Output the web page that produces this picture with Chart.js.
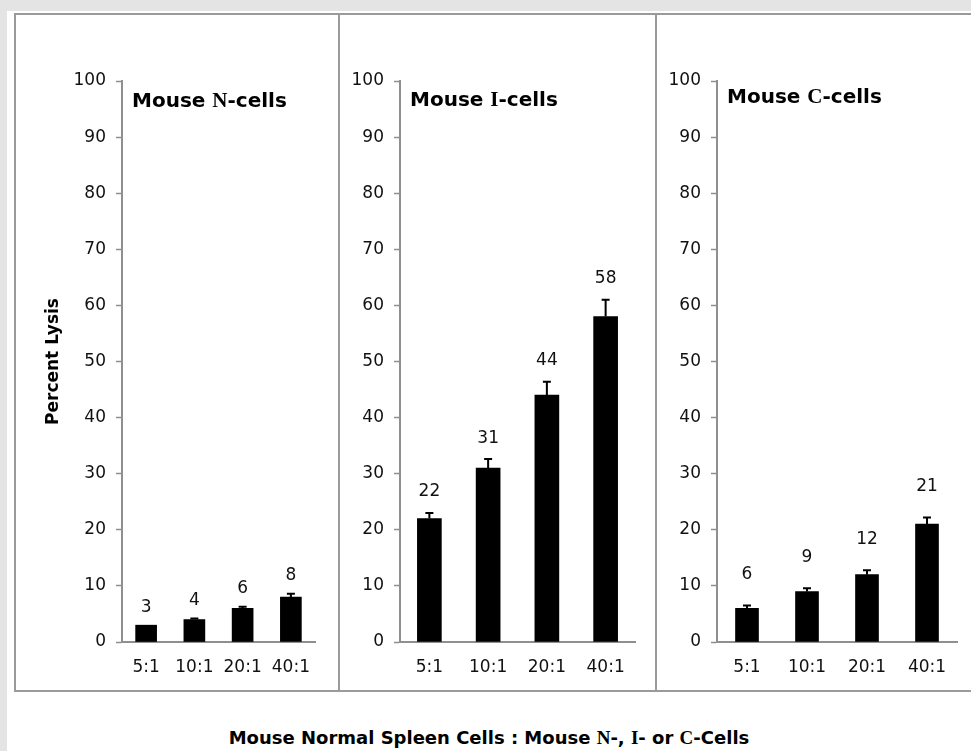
<!DOCTYPE html>
<html>
<head>
<meta charset="utf-8">
<script src="https://cdn.jsdelivr.net/npm/chart.js@4.4.1/dist/chart.umd.min.js"></script>
<style>
html,body{margin:0;padding:0;background:#e4e4e4;width:971px;height:751px;overflow:hidden;}
#sheet{position:absolute;left:7px;top:11px;width:964px;height:740px;background:#fff;}
#box{position:absolute;left:14px;top:13px;width:980px;height:679px;box-sizing:border-box;
  border-top:2px solid #9a9a9a;border-left:2px solid #9a9a9a;border-bottom:2px solid #9a9a9a;}
.sep{position:absolute;top:13px;height:679px;width:2px;background:#9a9a9a;}
canvas{position:absolute;top:15px;}
#caption{position:absolute;left:7px;width:964px;top:727px;line-height:18px;text-align:center;
  font:bold 18px "DejaVu Sans";color:#000;white-space:nowrap;}
#caption .s{font-family:"Liberation Serif";font-weight:bold;font-size:19px;}
</style>
</head>
<body>
<div id="sheet"></div>
<div id="box"></div>
<div class="sep" style="left:338px"></div>
<div class="sep" style="left:655px"></div>
<canvas id="c1" width="322" height="675" style="left:16px"></canvas>
<canvas id="c2" width="315" height="675" style="left:340px"></canvas>
<canvas id="c3" width="314" height="675" style="left:657px"></canvas>
<div id="caption">Mouse Normal Spleen Cells : Mouse <span class="s">N</span>-, <span class="s">I</span>- or <span class="s">C</span>-Cells</div>
<script>
// ---- data ----
const categories = ['5:1', '10:1', '20:1', '40:1'];
const nCells = [3, 4, 6, 8];
const nErr   = [0, 0.2, 0.3, 0.6];
const iCells = [22, 31, 44, 58];
const iErr   = [1.0, 1.6, 2.4, 3.0];
const cCells = [6, 9, 12, 21];
const cErr   = [0.5, 0.6, 0.8, 1.2];
const panelTitles = [['Mouse ', 'N', '-cells'], ['Mouse ', 'I', '-cells'], ['Mouse ', 'C', '-cells']];
const yAxisTitle = 'Percent Lysis';
const yMin = 0, yMax = 100, yStep = 10;

const AXIS = '#8f8f8f';
const TXT = '#111';

const overlay = {
  id: 'overlay',
  afterDatasetsDraw(chart, args, opts) {
    const ctx = chart.ctx, xs = chart.scales.x, ys = chart.scales.y;
    const vals = chart.data.datasets[0].data;
    ctx.save();
    vals.forEach((v, i) => {
      const px = xs.getPixelForValue(i);
      const base = ys.getPixelForValue(v);
      const top = ys.getPixelForValue(v + opts.errors[i]);
      if (opts.errors[i] > 0) {
        ctx.strokeStyle = '#000';
        ctx.lineWidth = 2;
        ctx.beginPath();
        ctx.moveTo(px, base); ctx.lineTo(px, top);
        ctx.moveTo(px - 4, top); ctx.lineTo(px + 4, top);
        ctx.stroke();
      }
      ctx.fillStyle = TXT;
      ctx.font = '17px "DejaVu Sans"';
      ctx.textAlign = 'center';
      ctx.textBaseline = 'middle';
      ctx.fillText(String(v), px, top - opts.labelGap);
    });
    let tx = chart.chartArea.left + 10;
    const ty = chart.chartArea.top + opts.titleDy;
    ctx.textAlign = 'left';
    ctx.textBaseline = 'alphabetic';
    ctx.fillStyle = '#000';
    opts.title.forEach((seg, k) => {
      ctx.font = k === 1 ? 'bold 21px "Liberation Serif"' : 'bold 20px "DejaVu Sans"';
      ctx.fillText(seg, tx, ty);
      tx += ctx.measureText(seg).width;
    });
    ctx.restore();
  }
};

function makeChart(id, values, errors, title, cfg) {
  return new Chart(document.getElementById(id), {
    type: 'bar',
    data: {
      labels: categories,
      datasets: [{ data: values, backgroundColor: '#000', borderWidth: 0, barThickness: cfg.barW }]
    },
    options: {
      responsive: false,
      animation: false,
      devicePixelRatio: 1,
      layout: { padding: { top: 66, right: cfg.padRight, left: 0, bottom: 0 } },
      plugins: {
        legend: { display: false },
        tooltip: { enabled: false },
        overlay: { errors: errors, title: title, labelGap: cfg.labelGap, titleDy: cfg.titleDy }
      },
      scales: {
        x: {
          grid: { display: false, drawTicks: false },
          border: { display: true, color: AXIS, width: 2 },
          ticks: { color: TXT, padding: 15, font: { family: 'DejaVu Sans', size: 17 } },
          afterFit(s) { s.height = 48; }
        },
        y: {
          min: yMin, max: yMax,
          grid: { display: true, drawOnChartArea: false, drawTicks: true, tickLength: 6, tickColor: AXIS, tickWidth: 1.5 },
          border: { display: true, color: AXIS, width: 2 },
          ticks: { stepSize: yStep, color: TXT, padding: 10, font: { family: 'DejaVu Sans', size: 17 } },
          title: {
            display: cfg.showTitle, text: yAxisTitle, color: '#000',
            font: { family: 'DejaVu Sans', size: 17, weight: 'bold' },
            padding: { top: 27, bottom: 0 }
          },
          afterFit(s) { s.width = cfg.yW; }
        }
      }
    },
    plugins: [overlay]
  });
}

makeChart('c1', nCells, nErr, panelTitles[0], { barW: 21, padRight: 23, yW: 106, showTitle: true, labelGap: 18, titleDy: 26 });
makeChart('c2', iCells, iErr, panelTitles[1], { barW: 24, padRight: 20, yW: 60, showTitle: false, labelGap: 21, titleDy: 25 });
makeChart('c3', cCells, cErr, panelTitles[2], { barW: 23, padRight: 14, yW: 60, showTitle: false, labelGap: 31, titleDy: 22 });
</script>
</body>
</html>
